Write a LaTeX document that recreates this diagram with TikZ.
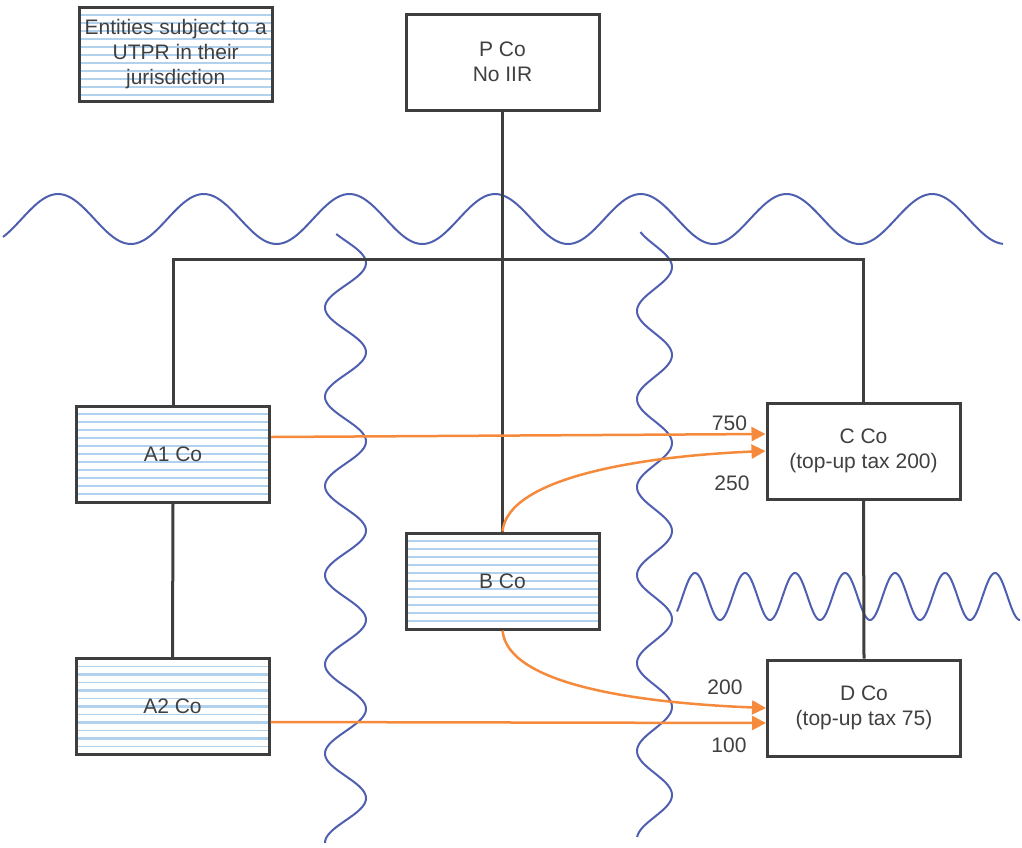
\documentclass[tikz,border=0pt]{standalone}
\usepackage{fontspec}
\setmainfont{Liberation Sans}
\usetikzlibrary{arrows.meta}
\definecolor{ripplecol}{RGB}{79,95,176}
\definecolor{paycol}{RGB}{245,138,60}
\definecolor{inkcol}{RGB}{64,64,64}
\definecolor{linecol}{RGB}{62,62,62}
\definecolor{stripecol}{RGB}{176,210,238}
\begin{document}
\begin{tikzpicture}[x=1pt,y=-1pt,
  font=\fontsize{21}{25}\selectfont,text=inkcol,
  entity/.style={draw=linecol,line width=3pt,fill=white,minimum width=193pt,minimum height=96pt,inner sep=0pt,align=center},
  utpr/.style={entity,path picture={
    \foreach \k in {1,...,11}{
      \pgfmathsetmacro{\lw}{ifthenelse(mod(\k,2)==0,2.4,1.2)}
      \draw[stripecol,line width=\lw pt] ([yshift=-\k*8pt]path picture bounding box.north west) -- ([yshift=-\k*8pt]path picture bounding box.north east);
    }}},
  link/.style={linecol,line width=3pt},
  pay/.style={paycol,line width=2.5pt,-{Triangle[length=14pt,width=14pt]}},
  ripple/.style={ripplecol,line width=2pt,samples=300},
  amount/.style={inner sep=0pt}]
  \useasboundingbox (0,0) rectangle (1022,847);
  \draw[ripple] plot[domain=3:1003] (\x,{219-25*cos(360/145.7*(\x-58))});
  \draw[ripple] plot[domain=234:843] ({345.5+20.5*cos(360/89.2*(\x-263))},\x);
  \draw[ripple] plot[domain=232:837] ({654.5+17.5*cos(360/88*(\x-267))},\x);
  \draw[ripple] plot[domain=677:1020] (\x,{596.5-23.5*cos(360/50*(\x-695))});

  \node[utpr,minimum height=94pt] (legend) at (175.75,54) {Entities subject to a\\UTPR in their\\jurisdiction};
  \node[entity] (P) at (502.5,62) {P Co\\No IIR};
  \node[utpr] (A1) at (173,454) {A1 Co};
  \node[utpr] (A2) at (172.5,706.5) {A2 Co};
  \node[utpr] (B) at (502.5,581) {B Co};
  \node[entity] (C) at (863.5,451) {C Co\\(top-up tax 200)};
  \node[entity] (D) at (864,708) {D Co\\(top-up tax 75)};

  \coordinate (bus) at (502.5,259);
  \draw[link] (P.south) -- (B.north);
  \draw[link] (A1.north) |- (bus) -| (C.north);
  \draw[link] (A1.south) -- (A2.north);
  \draw[link] (C.south) -- (D.north);

  \draw[pay] ([yshift=17pt]A1.east) -- ([yshift=17pt]C.west);
  \draw[pay] (B.north) .. controls +(5,-55) and +(-120,5) .. (C.west);
  \draw[pay] (B.south) .. controls +(5,55) and +(-125,-5) .. (D.west);
  \draw[pay] ([yshift=-15.5pt]A2.east) -- ([yshift=-15pt]D.west);

  \node[amount] (l750) at (729.5,423.5) {750};
  \node[amount] (l250) at (732,483.5) {250};
  \node[amount] (l200) at (725,687.5) {200};
  \node[amount] (l100) at (729,745.5) {100};
\end{tikzpicture}
\end{document}
